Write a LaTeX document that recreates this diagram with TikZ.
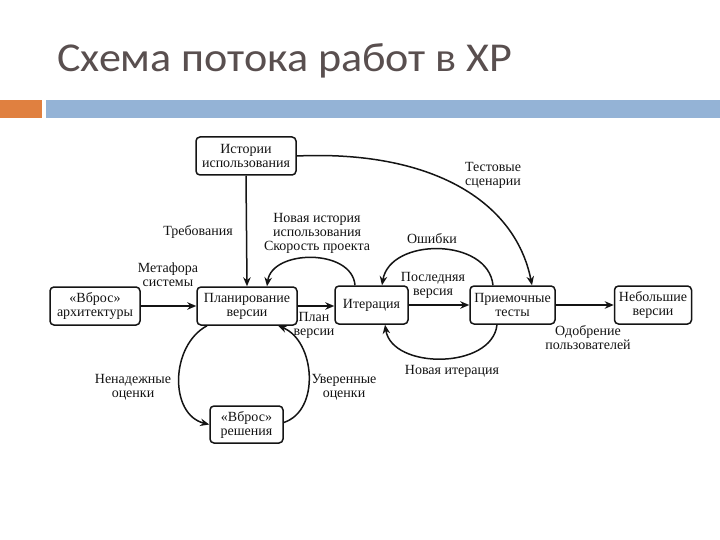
\documentclass[tikz,border=0pt]{standalone}
\usepackage{graphicx}
\usepackage{fontspec}
\setmainfont{Liberation Serif}
\newfontfamily\titlefont{Carlito}
\usetikzlibrary{arrows.meta,calc}
\definecolor{titlecol}{RGB}{89,79,79}
\definecolor{barorange}{RGB}{224,128,64}
\definecolor{barblue}{RGB}{148,179,214}
\definecolor{ink}{RGB}{20,20,20}
\begin{document}
\begin{tikzpicture}[x=1pt,y=-1pt,
  box/.style={draw=ink,line width=1.5pt,rounded corners=4pt,align=center,
    inner sep=0pt,font=\fontsize{14}{14}\selectfont,text=ink},
  lbl/.style={align=center,font=\fontsize{14}{14}\selectfont,text=ink,inner sep=0pt},
  flow/.style={draw=ink,line width=1.5pt,-{Stealth[length=9pt,width=7.5pt]}}]
\useasboundingbox (0,0) rectangle (720,540);
\fill[white] (0,0) rectangle (720,540);
% title and bars
\node[anchor=base west,inner sep=0pt,text=titlecol,font=\titlefont\fontsize{41}{48}\selectfont] (title) at (57,72) {\scalebox{1.075}[1]{Схема потока работ в XP}};
\fill[barorange] (0,100) rectangle (42,118);
\fill[barblue] (46,100) rectangle (720,118);
% nodes
\node[box,minimum width=100pt,minimum height=38pt] (hist) at (246,156) {Истории\\использования};
\node[box,minimum width=90pt,minimum height=38pt] (arch) at (95,306) {«Вброс»\\архитектуры};
\node[box,minimum width=100pt,minimum height=38pt] (plan) at (247,306) {Планирование\\версии};
\node[box,minimum width=73pt,minimum height=38pt] (iter) at (371.5,305) {Итерация};
\node[box,minimum width=85pt,minimum height=38pt] (acc) at (512.5,305) {Приемочные\\тесты};
\node[box,minimum width=77pt,minimum height=38pt] (small) at (653,305) {Небольшие\\версии};
\node[box,minimum width=73pt,minimum height=37pt] (sol) at (246.5,424.5) {«Вброс»\\решения};
% straight connectors
\draw[flow] (hist.south) -- (plan.north);
\draw[flow] (arch.east) -- (arch.east -| plan.west);
\draw[flow] (plan.east) -- (plan.east -| iter.west);
\draw[flow] (iter.east) -- (iter.east -| acc.west);
\draw[flow] (acc.east) -- (acc.east -| small.west);
% curved connectors
\draw[flow] ($(iter.north)+(-16.5,0)$) .. controls +(-3,-37) and +(5,-37) .. ($(plan.north)+(20,0)$);
\draw[flow] ($(acc.north)+(-19.5,0)$) .. controls +(-5,-48) and +(8,-48) .. ($(iter.north)+(10.5,0)$);
\draw[flow] ($(acc.south)+(-15.5,0)$) .. controls +(-5,45) and +(7,45) .. ($(iter.south)+(13.5,0)$);
\draw[flow] (hist.east) .. controls (430,150) and (515,200) .. ($(acc.north)+(19.5,0)$);
\draw[flow] ($(plan.south)+(-40,0)$) .. controls +(-37,20) and +(-40,-10) .. (sol.west);
\draw[flow] ($(sol.east)+(0,-2)$) .. controls +(37,-12) and +(37,15) .. ($(plan.south)+(31,0)$);
% labels
\node[lbl] (l1) at (198,232) {Требования};
\node[lbl] (l2) at (168,275) {Метафора\\системы};
\node[lbl] (l3) at (317,233) {Новая история\\использования\\Скорость проекта};
\node[lbl] (l4) at (314,325) {План\\версии};
\node[lbl] (l5) at (433,285) {Последняя\\версия};
\node[lbl] (l6) at (432,239) {Ошибки};
\node[lbl] (l7) at (493,175) {Тестовые\\сценарии};
\node[lbl] (l8) at (452,371) {Новая итерация};
\node[lbl] (l9) at (588,338) {Одобрение\\пользователей};
\node[lbl] (l10) at (133,387) {Ненадежные\\оценки};
\node[lbl] (l11) at (344,387) {Уверенные\\оценки};
\end{tikzpicture}
\end{document}
